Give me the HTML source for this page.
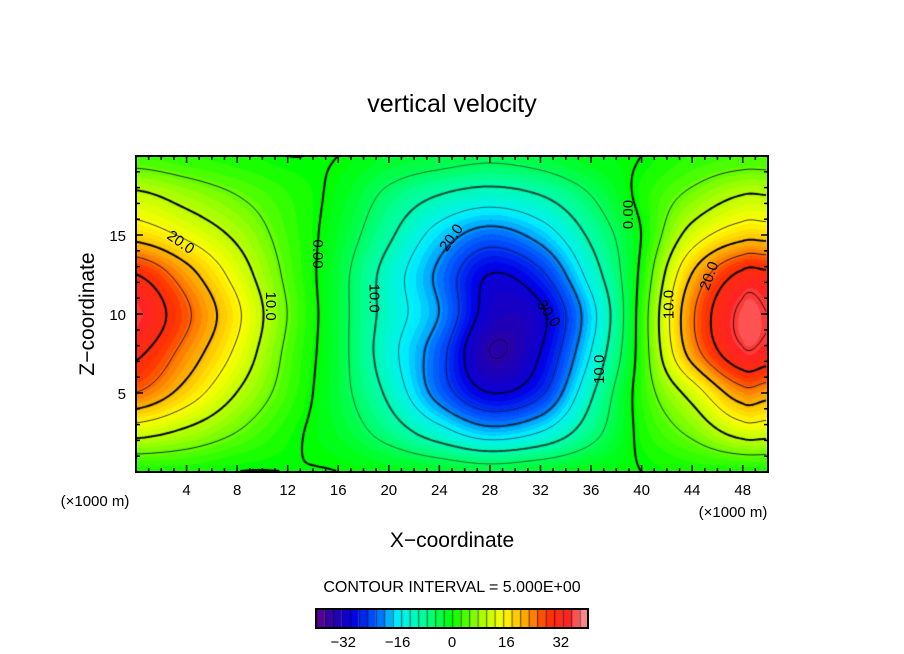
<!DOCTYPE html>
<html><head><meta charset="utf-8">
<style>
body{margin:0;background:#fff;}
#wrap{position:relative;width:904px;height:654px;overflow:hidden;font-family:"Liberation Sans",sans-serif;}
canvas,svg{position:absolute;left:0;top:0;}
</style></head>
<body>
<div id="wrap">
<canvas id="cv" width="904" height="654"></canvas>
<svg id="sv" width="904" height="654"></svg>
</div>
<script>
// ---- data ----
const xCoords = [0,4,8,12,16,20,24,28,32,36,40,44,48,50];
const zCoords = [0,2.5,5,7.5,10,12.5,15,17.5,20];
const row0   = [1,1,0,0,0,-1,-2,-3,-2,-1,0,1,1,1];
const row2_5 = [12,9,5,1,-2,-7,-13,-18,-15,-7,1,6,12,12];
const row5   = [25,18,10,3,-3,-11,-22,-30,-26,-11,2,12,23,22];
const row7_5 = [31,23,14,4,-3,-13,-23,-35,-30,-15,2,22,34,33];
const row10  = [35,26,16,5,-3,-12,-20,-32,-31,-17,2,24,36,35];
const row12_5= [30,22,13,4,-3,-12,-21,-30,-26,-13,1,20,31,31];
const row15  = [18,14,9,3,-2,-9,-17,-22,-18,-9,0,12,18,18];
const row17_5= [11,8,5,2,-1,-6,-10,-12,-10,-5,1,6,10,10];
const row20  = [3,2,1,0,0,-2,-3,-4,-3,-1,0,2,3,3];
const fieldRows = [row0,row2_5,row5,row7_5,row10,row12_5,row15,row17_5,row20];
const contourLevels = [-35,-30,-25,-20,-15,-10,-5,0,5,10,15,20,25,30,35];
const xTickLabels = [4,8,12,16,20,24,28,32,36,40,44,48];
const zTickLabels = [5,10,15];
const cbarValues = [-32,-16,0,16,32];
const contourLabels = [
 {t:"20.0",x:3.5,z:14.5,a:35},{t:"10.0",x:10.6,z:10.5,a:90},{t:"0.00",x:14.3,z:13.8,a:90},
 {t:"10.0",x:18.8,z:11,a:90},{t:"20.0",x:25,z:14.8,a:-55},{t:"30.0",x:32.6,z:10,a:55},
 {t:"10.0",x:36.7,z:6.5,a:-90},{t:"0.00",x:39,z:16.3,a:-90},{t:"10.0",x:42.2,z:10.6,a:-90},{t:"20.0",x:45.4,z:12.4,a:-70}
];
// ---- axes ----
const X0=136,X1=768,Y0=472,Y1=156;
const sx=v=>X0+(v/50)*(X1-X0);
const sz=v=>Y0-(v/20)*(Y0-Y1);
const cbx=v=>452+v*3.4;
function colorOf(v){
 const st=[[-40,[100,0,140]],[-35,[40,0,170]],[-29,[0,0,230]],[-22,[0,100,255]],[-16,[0,240,255]],[-8,[0,255,150]],[0,[0,255,0]],[8,[160,255,0]],[15,[255,255,0]],[22,[255,160,0]],[28,[255,50,0]],[34,[255,35,35]],[40,[255,160,160]]];
 if(v<=st[0][0])return st[0][1];
 for(let i=1;i<st.length;i++){if(v<=st[i][0]){const a=st[i-1],b=st[i],t=(v-a[0])/(b[0]-a[0]);return a[1].map((c,k)=>Math.round(c+(b[1][k]-c)*t));}}
 return st[st.length-1][1];
}
function cr(p0,p1,p2,p3,t){return 0.5*((2*p1)+(-p0+p2)*t+(2*p0-5*p1+4*p2-p3)*t*t+(-p0+3*p1-3*p2+p3)*t*t*t);}
function seg(arr,v){let i=0;while(i<arr.length-2&&v>arr[i+1])i++;return [i,(v-arr[i])/(arr[i+1]-arr[i])];}
function fieldAt(x,z){
 const [i,tx]=seg(xCoords,x),[j,tz]=seg(zCoords,z);
 const g=(jj,ii)=>fieldRows[Math.max(0,Math.min(zCoords.length-1,jj))][Math.max(0,Math.min(xCoords.length-1,ii))];
 const r=[];
 for(let k=-1;k<=2;k++){r.push(cr(g(j+k,i-1),g(j+k,i),g(j+k,i+1),g(j+k,i+2),tx));}
 return cr(r[0],r[1],r[2],r[3],tz);
}
const cv=document.getElementById('cv'),ctx=cv.getContext('2d');
const W=X1-X0,H=Y0-Y1,img=ctx.createImageData(W,H);
const F=[];
for(let py=0;py<H;py++){F.push([]);const z=20*(1-(py+0.5)/H);
 for(let px=0;px<W;px++){const x=50*(px+0.5)/W;const v=fieldAt(x,z);F[py].push(v);
  const q=Math.round(v/1.25)*1.25;const c=colorOf(q);const o=(py*W+px)*4;img.data[o]=c[0];img.data[o+1]=c[1];img.data[o+2]=c[2];img.data[o+3]=255;}}
ctx.putImageData(img,X0,Y1);
// contours (marching squares on 3px grid)
const S=3;
contourLevels.forEach(L=>{
 ctx.beginPath();
 for(let py=0;py+S<H;py+=S)for(let px=0;px+S<W;px+=S){
  const a=F[py][px],b=F[py][px+S],c=F[py+S][px+S],d=F[py+S][px];
  const pts=[];
  const e=(v1,v2,x1,y1,x2,y2)=>{if((v1-L)*(v2-L)<0){const t=(L-v1)/(v2-v1);pts.push([x1+(x2-x1)*t,y1+(y2-y1)*t]);}};
  e(a,b,px,py,px+S,py);e(b,c,px+S,py,px+S,py+S);e(c,d,px+S,py+S,px,py+S);e(d,a,px,py+S,px,py);
  for(let k=0;k+1<pts.length;k+=2){ctx.moveTo(X0+pts[k][0],Y1+pts[k][1]);ctx.lineTo(X0+pts[k+1][0],Y1+pts[k+1][1]);}
 }
 ctx.strokeStyle='#000';ctx.lineWidth=(L%10===0)?2:0.8;ctx.globalAlpha=L<0?0.7:1;ctx.stroke();ctx.globalAlpha=1;
});
// colorbar
const cbarCells=[];for(let v=-40;v<40;v+=2.5)cbarCells.push(v);
cbarCells.forEach(v=>{const c=colorOf(v+1.25);ctx.fillStyle=`rgb(${c[0]},${c[1]},${c[2]})`;ctx.fillRect(cbx(v),609,8.5,19);
 ctx.fillStyle='rgba(0,0,0,0.55)';ctx.fillRect(cbx(v),609,1.2,19);});
// svg overlay
const NS='http://www.w3.org/2000/svg',sv=document.getElementById('sv');
function mk(tag,attrs,txt){const el=document.createElementNS(NS,tag);for(const k in attrs)el.setAttribute(k,attrs[k]);if(txt!==undefined)el.textContent=txt;sv.appendChild(el);return el;}
let el;
el=mk('rect',{x:X0,y:Y1,width:W,height:H,fill:'none',stroke:'#000','stroke-width':2});


el=mk('rect',{x:316,y:609,width:272,height:19,fill:'none',stroke:'#000','stroke-width':2});


for(let v=1;v<50;v++){const L=v%4===0?7:4;
 el=mk('line',{x1:sx(v),x2:sx(v),y1:Y0,y2:Y0-L,stroke:'#000','stroke-width':1.5});
 
 
 el=mk('line',{x1:sx(v),x2:sx(v),y1:Y1,y2:Y1+L,stroke:'#000','stroke-width':1.5});
 
 }
for(let v=1;v<20;v++){const L=v%5===0?7:4;
 el=mk('line',{x1:X0,x2:X0+L,y1:sz(v),y2:sz(v),stroke:'#000','stroke-width':1.5});
 
 
 el=mk('line',{x1:X1,x2:X1-L,y1:sz(v),y2:sz(v),stroke:'#000','stroke-width':1.5});
 
 }
xTickLabels.forEach(v=>{el=mk('text',{x:sx(v),y:495,'font-size':15,'text-anchor':'middle'},String(v));
 
 });
zTickLabels.forEach(v=>{el=mk('text',{x:126,y:sz(v)+6,'font-size':15,'text-anchor':'end'},String(v));
 
 });
cbarValues.forEach(v=>{el=mk('text',{x:cbx(v),y:647,'font-size':15,'text-anchor':'middle'},(v<0?'\u2212':'')+Math.abs(v));
 
 });
contourLabels.forEach(o=>{el=mk('text',{x:sx(o.x),y:sz(o.z),'font-size':15,'text-anchor':'middle','dominant-baseline':'middle',transform:`rotate(${o.a} ${sx(o.x)} ${sz(o.z)})`},o.t);
 
 });
el=mk('text',{x:452,y:112,'font-size':25,'text-anchor':'middle'},'vertical velocity');


el=mk('text',{x:452,y:547,'font-size':21,'text-anchor':'middle'},'X\u2212coordinate');


el=mk('text',{x:94,y:314,'font-size':21,'text-anchor':'middle',transform:'rotate(-90 94 314)'},'Z\u2212coordinate');


el=mk('text',{x:95,y:506,'font-size':15,'text-anchor':'middle'},'(\u00d71000 m)');


el=mk('text',{x:733,y:517,'font-size':15,'text-anchor':'middle'},'(\u00d71000 m)');


el=mk('text',{x:452,y:592,'font-size':16,'text-anchor':'middle'},'CONTOUR INTERVAL = 5.000E+00');


</script>
</body></html>
